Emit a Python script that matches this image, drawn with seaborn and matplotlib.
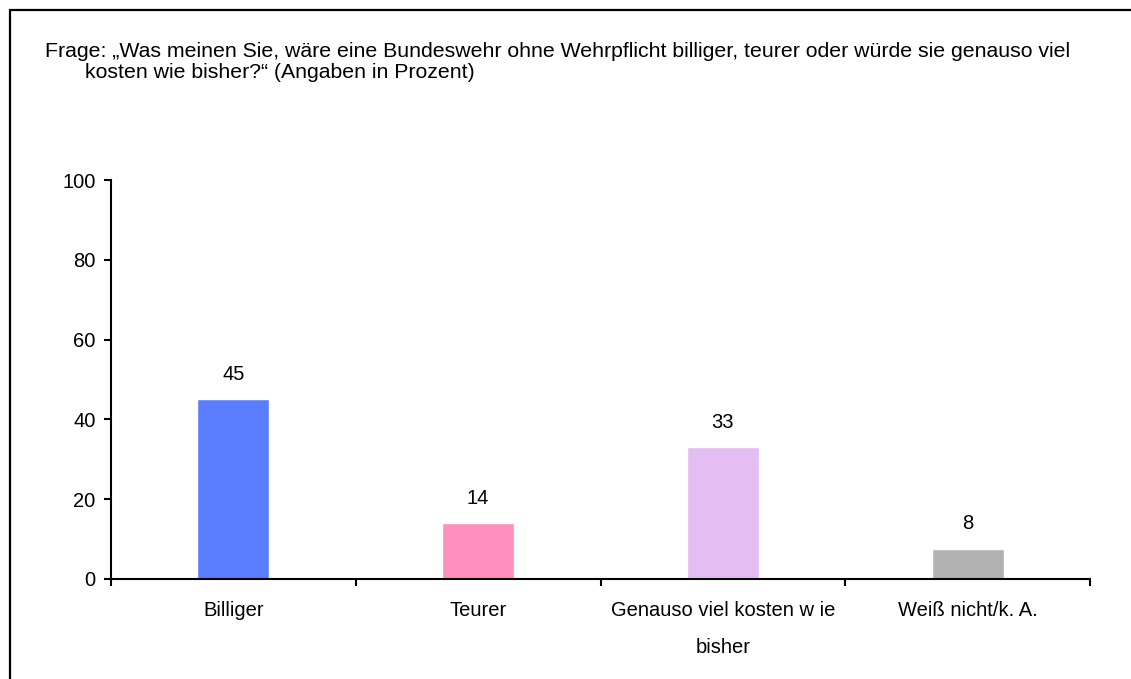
import matplotlib
matplotlib.use("Agg")
import matplotlib.pyplot as plt
import seaborn as sns
import pandas as pd
from matplotlib.lines import Line2D
from matplotlib.ticker import FixedLocator

categories = ["Billiger", "Teurer", "Genauso viel kosten w ie\nbisher", "Weiß nicht/k. A."]
values = [45, 14, 33, 7.6]
labels = ["45", "14", "33", "8"]
colors = ["#5A7DFF", "#FF8FBF", "#E4BEF2", "#B2B2B2"]
yticks = [0, 20, 40, 60, 80, 100]
title1 = "Frage: „Was meinen Sie, wäre eine Bundeswehr ohne Wehrpflicht billiger, teurer oder würde sie genauso viel"
title2 = "kosten wie bisher?“ (Angaben in Prozent)"

sns.set_style("white")
plt.rcParams["font.family"] = ["Liberation Sans", "DejaVu Sans"]
plt.rcParams["text.color"] = "black"
plt.rcParams["xtick.color"] = "black"
plt.rcParams["ytick.color"] = "black"

W, H = 1131, 679
fig = plt.figure(figsize=(W / 100, H / 100), dpi=100)
ax = fig.add_axes([111 / W, 1 - 579 / H, (1090 - 111) / W, (579 - 180) / H])

df = pd.DataFrame({"cat": categories, "val": values})
sns.barplot(data=df, x="cat", y="val", hue="cat", palette=colors, legend=False,
            width=0.295, ax=ax, saturation=1)

ax.set_xlim(-0.5, len(categories) - 0.5)
ax.set_ylim(0, 100)
ax.set_yticks(yticks)
ax.set_xlabel("")
ax.set_ylabel("")

for s in ["top", "right"]:
    ax.spines[s].set_visible(False)
for s in ["left", "bottom"]:
    ax.spines[s].set_color("black")
    ax.spines[s].set_linewidth(1.5)

FS = 14.5
ax.tick_params(axis="y", which="major", length=5, width=1.5, color="black",
               labelsize=FS, labelcolor="black", pad=6, left=True, direction="out")
ax.tick_params(axis="x", which="major", length=0, labelsize=FS, labelcolor="black", pad=16)
ax.xaxis.set_minor_locator(FixedLocator([i - 0.5 for i in range(len(categories) + 1)]))
ax.tick_params(axis="x", which="minor", length=5, width=1.5, color="black",
               bottom=True, direction="out")
for t in ax.get_xticklabels():
    t.set_linespacing(2.2)
    t.set_va("top")

for bar, lab in zip(ax.patches, labels):
    ax.annotate(lab, (bar.get_x() + bar.get_width() / 2, bar.get_height()),
                xytext=(0, 11), textcoords="offset points",
                ha="center", va="bottom", fontsize=FS, color="black")

fig.text(45 / W, 1 - 57 / H, title1, fontsize=15.3, ha="left", va="baseline", color="black")
fig.text(85 / W, 1 - 78 / H, title2, fontsize=15.3, ha="left", va="baseline", color="black")

# frame around figure (top and left visible)
fig.add_artist(Line2D([9.5 / W, 1.0], [1 - 9.5 / H, 1 - 9.5 / H], color="black", lw=1.6,
                      transform=fig.transFigure))
fig.add_artist(Line2D([9.5 / W, 9.5 / W], [0.0, 1 - 9.5 / H], color="black", lw=1.6,
                      transform=fig.transFigure))

fig.savefig("out.png", dpi=100)
